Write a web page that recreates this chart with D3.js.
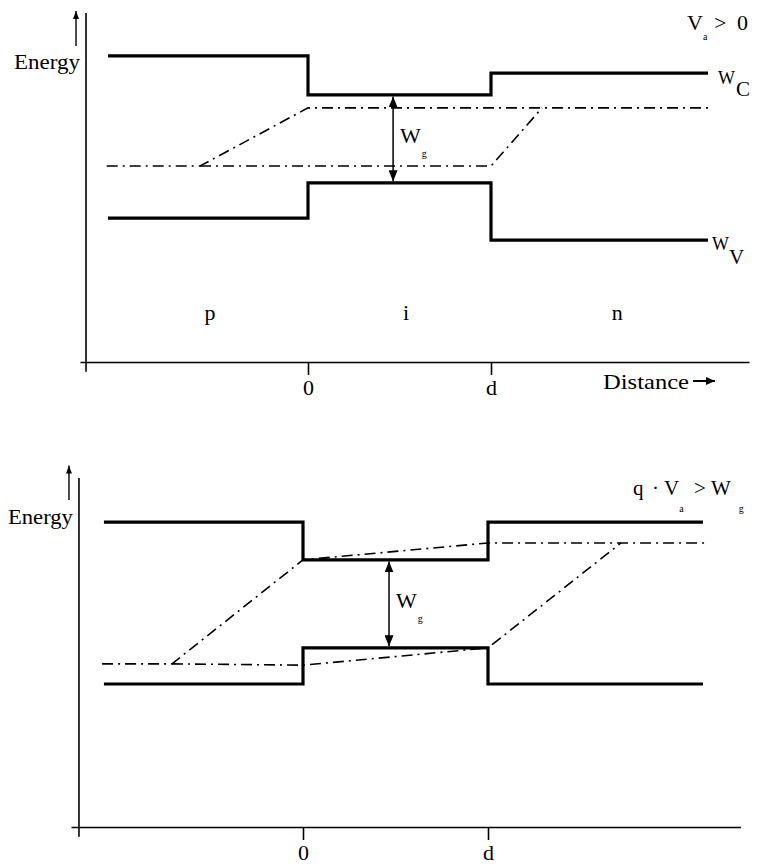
<!DOCTYPE html>
<html>
<head>
<meta charset="utf-8">
<script src="https://cdn.jsdelivr.net/npm/d3@7"></script>
<style>
  html, body { margin: 0; background: #fff; }
  svg { display: block; }
  text { fill: #000; }
</style>
</head>
<body>
<script>
// distance in units of d (0 = p/i interface, 1 = i/n interface)
// energy in arbitrary units above the distance axis

const tickValues = [0, 1];
const tickLabels = ["0", "d"];

const regionNames = ["p", "i", "n"];
const regionCenters = [-0.536, 0.536, 1.69];
const regionLevel = 1.3;

// upper diagram, V_a > 0
const topEdges = [-1.093, 0, 1, 2.186];
const topWc = [9.42, 8.22, 8.89, 8.89];
const topWv = [4.43, 5.51, 3.75, 3.75];
const topFnX = [-1.10, -0.59, 0, 2.186];
const topFnY = [6.03, 6.03, 7.82, 7.82];
const topFpX = [-0.59, 1, 1.279];
const topFpY = [6.03, 6.03, 7.82];

// lower diagram, q·V_a > W_g
const botEdges = [-1.076, 0, 1, 2.162];
const botWc = [9.38, 8.22, 9.38, 9.38];
const botWv = [4.40, 5.51, 4.40, 4.40];
const botFnX = [-1.086, -0.708, 0, 1, 2.173];
const botFnY = [5.02, 5.02, 8.22, 8.74, 8.74];
const botFpX = [-0.708, 0, 1, 1.719];
const botFpY = [5.02, 4.98, 5.51, 8.74];

const gapAt = 0.465;

const W = 763;
const H = 865;
const serif = "'Liberation Serif', 'Times New Roman', 'DejaVu Serif', serif";

const svg = d3.select("body").append("svg")
  .attr("width", W)
  .attr("height", H)
  .attr("viewBox", `0 0 ${W} ${H}`)
  .attr("font-family", serif);

// ── arrowheads ─────────────────────────────────────────────────────────────
const defs = svg.append("defs");
function marker(id, len, wid) {
  defs.append("marker")
    .attr("id", id)
    .attr("viewBox", `0 0 ${len} ${wid}`)
    .attr("refX", len)
    .attr("refY", wid / 2)
    .attr("markerWidth", len)
    .attr("markerHeight", wid)
    .attr("markerUnits", "userSpaceOnUse")
    .attr("orient", "auto-start-reverse")
    .append("path")
    .attr("d", `M0,0L${len},${wid / 2}L0,${wid}Z`)
    .attr("fill", "#000");
}
marker("gap", 11, 9);
marker("small", 8, 6);
marker("dist", 9, 8);

function drawPanel(p) {
  const x = d3.scaleLinear()
    .domain(p.xExtent)
    .range(p.xExtent.map((v) => p.zeroX + v * p.unitX));
  const y = d3.scaleLinear().domain([0, 10]).range([p.axisY, p.axisY - 325]);
  const g = svg.append("g");

  // distance axis
  g.append("g")
    .attr("transform", `translate(0,${p.axisY})`)
    .call(d3.axisBottom(x)
      .tickValues(tickValues)
      .tickFormat((d, i) => tickLabels[i])
      .tickSizeInner(13)
      .tickSizeOuter(0)
      .tickPadding(4))
    .call((a) => {
      a.attr("font-family", serif).attr("font-size", 22);
      a.select(".domain").attr("stroke-width", 1.6);
      a.selectAll(".tick line").attr("stroke-width", 1.6);
      a.selectAll(".tick text").attr("fill", "#000");
    });

  // energy axis
  g.append("line")
    .attr("x1", x(p.yAxisAt)).attr("x2", x(p.yAxisAt))
    .attr("y1", y(-0.3)).attr("y2", y(10.74))
    .attr("stroke", "#000")
    .attr("stroke-width", 1.6);

  g.append("line")
    .attr("x1", x(p.yAxisAt) - 10).attr("x2", x(p.yAxisAt) - 10)
    .attr("y1", y(p.energyArrow[0])).attr("y2", y(p.energyArrow[1]))
    .attr("stroke", "#000")
    .attr("stroke-width", 1.4)
    .attr("marker-end", "url(#small)");

  g.append("text")
    .attr("x", x(p.yAxisAt) - 6 - p.energyWidth)
    .attr("y", p.energyLabelY)
    .attr("font-size", 22)
    .attr("textLength", p.energyWidth)
    .attr("lengthAdjust", "spacingAndGlyphs")
    .text("Energy");

  // band edges
  const stepLine = d3.line()
    .x((d) => x(d[0]))
    .y((d) => y(d[1]))
    .curve(d3.curveStepAfter);
  for (const levels of [p.wc, p.wv]) {
    g.append("path")
      .datum(d3.zip(p.edges, levels))
      .attr("d", stepLine)
      .attr("fill", "none")
      .attr("stroke", "#000")
      .attr("stroke-width", 3.2);
  }

  // quasi fermi levels
  const line = d3.line().x((d) => x(d[0])).y((d) => y(d[1]));
  for (const [xs, ys] of p.fermi) {
    g.append("path")
      .datum(d3.zip(xs, ys))
      .attr("d", line)
      .attr("fill", "none")
      .attr("stroke", "#000")
      .attr("stroke-width", 1.6)
      .attr("stroke-dasharray", "11,5,2,5");
  }

  // W_g arrow
  const top = y(p.wc[1]) + 1.6;
  const bot = y(p.wv[1]) - 1.6;
  g.append("line")
    .attr("x1", x(gapAt)).attr("x2", x(gapAt))
    .attr("y1", top).attr("y2", bot)
    .attr("stroke", "#000")
    .attr("stroke-width", 1.5)
    .attr("marker-start", "url(#gap)")
    .attr("marker-end", "url(#gap)");

  const mid = (top + bot) / 2;
  const wg = g.append("text")
    .attr("x", x(gapAt) + 7)
    .attr("y", mid + 4)
    .attr("font-size", 22);
  wg.append("tspan").text("W");
  wg.append("tspan").attr("font-size", 10).attr("dy", 14).attr("dx", 1).text("g");

  return {x, y, g};
}

// ── upper diagram ───────────────────────────────────────────────────────────
const up = drawPanel({
  xExtent: [-1.246, 2.41],
  zeroX: 308,
  unitX: 183,
  axisY: 362,
  yAxisAt: -1.213,
  energyArrow: [9.72, 10.8],
  energyLabelY: 69,
  energyWidth: 66,
  edges: topEdges,
  wc: topWc,
  wv: topWv,
  fermi: [[topFnX, topFnY], [topFpX, topFpY]],
});

up.g.selectAll(".region")
  .data(regionNames)
  .join("text")
  .attr("class", "region")
  .attr("x", (d, i) => up.x(regionCenters[i]))
  .attr("y", up.y(regionLevel))
  .attr("text-anchor", "middle")
  .attr("font-size", 22)
  .text((d) => d);

up.g.append("text")
  .attr("x", 603)
  .attr("y", 389)
  .attr("font-size", 22)
  .attr("textLength", 86)
  .attr("lengthAdjust", "spacingAndGlyphs")
  .text("Distance");
up.g.append("line")
  .attr("x1", 693).attr("x2", 715)
  .attr("y1", 381).attr("y2", 381)
  .attr("stroke", "#000")
  .attr("stroke-width", 2)
  .attr("marker-end", "url(#dist)");

const va = up.g.append("text").attr("x", 687).attr("y", 30).attr("font-size", 22);
va.append("tspan").text("V");
va.append("tspan").attr("font-size", 10).attr("dy", 10).text("a");
va.append("tspan").attr("x", 714).attr("dy", -10).text(">");
va.append("tspan").attr("x", 737).text("0");

const wcLabel = up.g.append("text").attr("x", 718).attr("y", 84).attr("font-size", 18);
wcLabel.append("tspan").text("W");
wcLabel.append("tspan").attr("font-size", 21).attr("dx", 1).attr("dy", 12).text("C");

const wvLabel = up.g.append("text").attr("x", 712).attr("y", 250).attr("font-size", 18);
wvLabel.append("tspan").text("W");
wvLabel.append("tspan").attr("font-size", 21).attr("dx", 0).attr("dy", 14).text("V");

// ── lower diagram ───────────────────────────────────────────────────────────
const lo = drawPanel({
  xExtent: [-1.254, 2.365],
  zeroX: 303,
  unitX: 185,
  axisY: 827,
  yAxisAt: -1.211,
  energyArrow: [10.06, 11.12],
  energyLabelY: 524,
  energyWidth: 65,
  edges: botEdges,
  wc: botWc,
  wv: botWv,
  fermi: [[botFnX, botFnY], [botFpX, botFpY]],
});

const cond = lo.g.append("text").attr("x", 633).attr("y", 495).attr("font-size", 21);
cond.append("tspan").text("q");
cond.append("tspan").attr("x", 652).text("·");
cond.append("tspan").attr("x", 664).text("V");
cond.append("tspan").attr("font-size", 10).attr("dy", 17).text("a");
cond.append("tspan").attr("x", 694).attr("dy", -17).text(">");
cond.append("tspan").attr("x", 711).text("W");
cond.append("tspan").attr("font-size", 10).attr("dx", 8).attr("dy", 17).text("g");
</script>
</body>
</html>
